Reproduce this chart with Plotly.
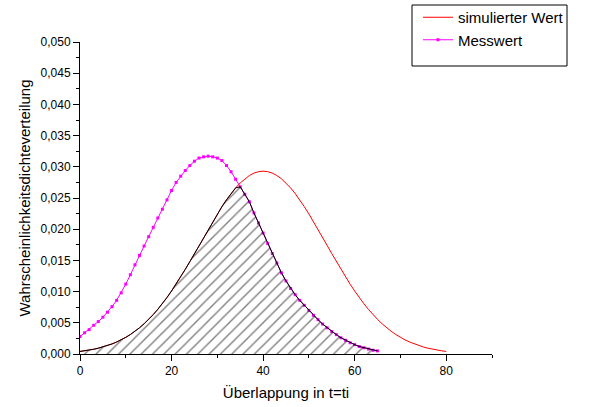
import plotly.graph_objects as go

# --- data ---
sim_x = list(range(0, 81))
sim_y = [0.00041, 0.00051, 0.00063, 0.00076, 0.00093, 0.00112, 0.00135, 0.00161, 0.00192, 0.00226,
         0.00267, 0.00312, 0.00363, 0.00420, 0.00484, 0.00554, 0.00632, 0.00716, 0.00807, 0.00905,
         0.01010, 0.01120, 0.01236, 0.01357, 0.01481, 0.01609, 0.01738, 0.01868, 0.01996, 0.02123,
         0.02245, 0.02361, 0.02471, 0.02571, 0.02662, 0.02741, 0.02808, 0.02861, 0.02899, 0.02922,
         0.02930,
         0.02922, 0.02899, 0.02861, 0.02808, 0.02741, 0.02662, 0.02571, 0.02471, 0.02361, 0.02245,
         0.02123, 0.01996, 0.01868, 0.01738, 0.01609, 0.01481, 0.01357, 0.01236, 0.01120, 0.01010,
         0.00905, 0.00807, 0.00716, 0.00632, 0.00554, 0.00484, 0.00420, 0.00363, 0.00312, 0.00267,
         0.00226, 0.00192, 0.00161, 0.00135, 0.00112, 0.00093, 0.00076, 0.00063, 0.00051, 0.00041]

mess_x = list(range(0, 66))
mess_y = [0.0028, 0.0034, 0.0039, 0.0046, 0.0052, 0.0059, 0.0067, 0.0076, 0.0086, 0.0098,
          0.0112, 0.0127, 0.0143, 0.0158, 0.0173, 0.0188, 0.0203, 0.0218, 0.0232, 0.0247,
          0.0262, 0.0275, 0.0285, 0.0294, 0.0302, 0.0309, 0.0314, 0.0316, 0.0317, 0.0316,
          0.0314, 0.0310, 0.0302, 0.0292, 0.0280, 0.0268, 0.0256, 0.0244, 0.0226, 0.0210,
          0.0194, 0.0177, 0.0161, 0.0146, 0.0130, 0.0117, 0.0105, 0.0095, 0.0086, 0.0078,
          0.0070, 0.0062, 0.0055, 0.0048, 0.0042, 0.0036, 0.0031, 0.0026, 0.0022, 0.0018,
          0.0015, 0.0012, 0.0010, 0.0008, 0.0006, 0.0005]

x_ticks = [0, 20, 40, 60, 80]
y_ticks = [0.000, 0.005, 0.010, 0.015, 0.020, 0.025, 0.030, 0.035, 0.040, 0.045, 0.050]

# overlap region: minimum of both curves on common x
sim_map = dict(zip(sim_x, sim_y))
ov_x = [x for x in mess_x if x in sim_map]
ov_y = [min(sim_map[x], m) for x, m in zip(mess_x, mess_y) if x in sim_map]

W, H = 590, 407
ML, MR, MT, MB = 80, 98, 42, 53
PW, PH = W - ML - MR, H - MT - MB

fig = go.Figure()
fig.add_trace(go.Scatter(
    x=mess_x, y=mess_y, mode="lines+markers", name="Messwert",
    line=dict(color="#FF00FF", width=1),
    marker=dict(symbol="square", size=3, color="#FF00FF", line=dict(width=0)),
))
fig.add_trace(go.Scatter(
    x=sim_x, y=sim_y, mode="lines", name="simulierter Wert",
    line=dict(color="#FF0000", width=1),
))
fig.add_trace(go.Scatter(
    x=ov_x, y=ov_y, mode="lines", showlegend=False,
    line=dict(color="black", width=1),
    fill="tozeroy", fillcolor="rgba(0,0,0,0)",
    fillpattern=dict(shape="/", fgcolor="black", bgcolor="rgba(255,255,255,0)",
                     size=8, solidity=0.17),
))

fig.update_layout(
    width=W, height=H,
    margin=dict(l=ML, r=MR, t=MT, b=MB, autoexpand=False),
    paper_bgcolor="white", plot_bgcolor="white",
    separators=",.",
    font=dict(family="Liberation Sans, Arial, sans-serif", color="black", size=12),
    showlegend=True,
    legend=dict(
        x=(418 - ML) / PW, y=1 + (MT - 1) / PH,
        xanchor="left", yanchor="top",
        bgcolor="rgba(0,0,0,0)", borderwidth=0,
        font=dict(size=15, family="Liberation Sans, Arial, sans-serif"),
        traceorder="reversed", itemwidth=30, tracegroupgap=0,
    ),
    xaxis=dict(
        range=[0, 90], tickvals=x_ticks, ticks="outside", ticklen=6, tickwidth=1,
        tickcolor="black", showline=True, linecolor="black", linewidth=1,
        showgrid=False, zeroline=False, automargin=False,
        minor=dict(dtick=10, tick0=0, ticks="outside", ticklen=3, tickcolor="black", showgrid=False),
        title=dict(text="Überlappung in t=ti", font=dict(size=15), standoff=10),
        tickfont=dict(size=12),
    ),
    yaxis=dict(
        range=[0, 0.05], tickvals=y_ticks, tickformat=".3f", ticks="outside", ticklen=6, tickwidth=1,
        tickcolor="black", showline=True, linecolor="black", linewidth=1,
        showgrid=False, zeroline=False, automargin=False,
        minor=dict(dtick=0.0025, tick0=0, ticks="outside", ticklen=3, tickcolor="black", showgrid=False),
        title=dict(text="Wahrscheinlichkeitsdichteverteilung", font=dict(size=15), standoff=6),
        tickfont=dict(size=12),
    ),
    shapes=[dict(
        type="rect", xref="paper", yref="paper",
        x0=(412 - ML) / PW, x1=(567 - ML) / PW,
        y0=1 + (MT - 66) / PH, y1=1 + (MT - 5) / PH,
        line=dict(color="black", width=1), fillcolor="rgba(0,0,0,0)",
    )],
)

fig.write_html("out.html")
